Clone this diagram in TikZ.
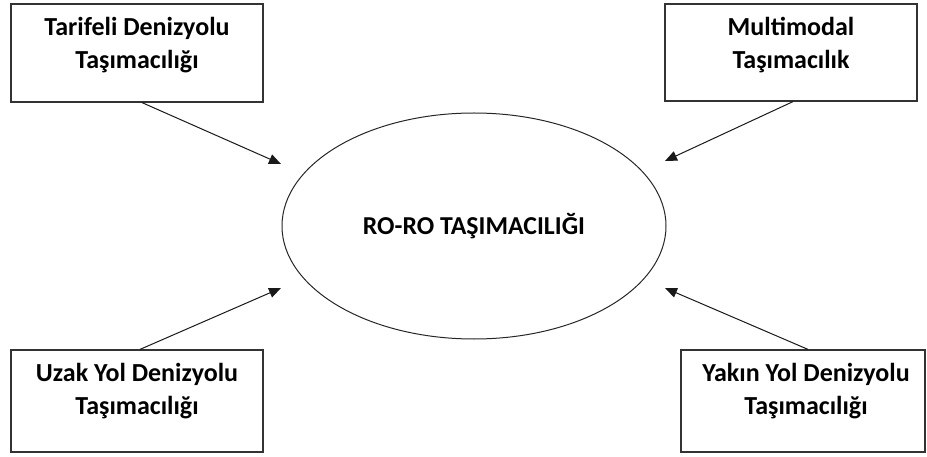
\documentclass[tikz,border=0pt]{standalone}
\usepackage{fontspec}
\setmainfont{Carlito}
\usetikzlibrary{arrows.meta,shapes.geometric,calc}

\tikzset{
  topicbox/.style={draw=black!80, line width=1.2pt, rectangle, inner sep=0pt,
    minimum width=252pt},
  hub/.style={draw=black!85, line width=1pt, ellipse, inner sep=0pt,
    minimum width=384pt, minimum height=226pt,
    font=\fontsize{25.8}{30}\selectfont\bfseries},
  caption/.style={inner sep=0pt, anchor=base,
    font=\fontsize{26}{33}\selectfont\bfseries},
  feed/.style={draw=black!90, line width=1pt,
    -{Triangle[length=12pt, width=10pt]}}
}

\newcommand{\twolines}[2]{\setlength{\tabcolsep}{0pt}\begin{tabular}[t]{c}#1\\#2\end{tabular}}

\begin{document}
\begin{tikzpicture}[x=1pt, y=-1pt]
  \useasboundingbox (0,0) rectangle (927,457);
  \clip (0,0) rectangle (927,457);

  % central topic
  \node[hub] (roro) at (474,226) {RO-RO TAŞIMACILIĞI};

  % surrounding boxes
  \node[topicbox, minimum height=98pt] (tl) at (137,53) {};
  \node[topicbox, minimum height=97pt] (tr) at (791,52.5) {};
  \node[topicbox, minimum height=102pt] (bl) at (137,401) {};
  \node[topicbox, minimum height=102pt, minimum width=244pt] (br) at (803,401) {};

  % box captions, first baseline 32pt below the top edge
  \node[caption] (tltext) at ($(tl.north)+(0,32)$) {\twolines{Tarifeli Denizyolu}{Taşımacılığı}};
  \node[caption] (trtext) at ($(tr.north)+(0,32)$) {\twolines{Multimodal}{Taşımacılık}};
  \node[caption] (bltext) at ($(bl.north)+(0,32)$) {\twolines{Uzak Yol Denizyolu}{Taşımacılığı}};
  \node[caption] (brtext) at ($(br.north)+(3,32)$) {\twolines{Yakın Yol Denizyolu}{Taşımacılığı}};

  % arrow tips just outside the ellipse
  \coordinate (tlend) at (281,164);
  \coordinate (trend) at (665,161);
  \coordinate (blend) at (281,288);
  \coordinate (brend) at (665,288);

  \draw[feed] ([xshift=5pt]tl.south) -- (tlend);
  \draw[feed] ([xshift=2pt]tr.south) -- (trend);
  \draw[feed] ([xshift=3pt]bl.north) -- (blend);
  \draw[feed] ([xshift=5pt]br.north) -- (brend);
\end{tikzpicture}
\end{document}
